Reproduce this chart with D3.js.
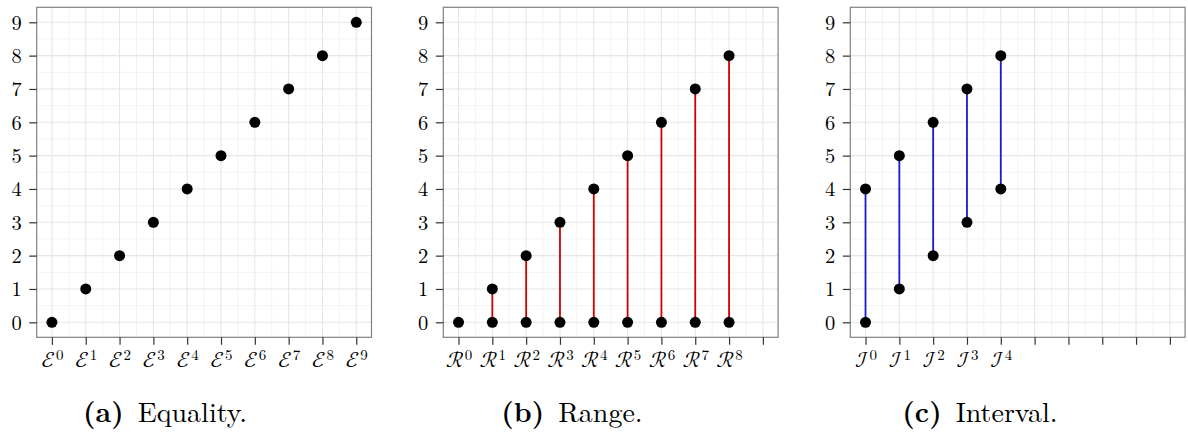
<!DOCTYPE html>
<html>
<head>
<meta charset="utf-8">
<script src="https://cdn.jsdelivr.net/npm/d3@7"></script>
<style>
  body { margin: 0; background: #fff; }
  text { font-family: "Latin Modern Roman", "Liberation Serif", serif; fill: #000; }
</style>
</head>
<body>
<div class="content"></div>
<script>
var svgWidth = 1188;  // The width of the SVG element.
var svgHeight = 435;  // The height of the SVG element.

// Data for each of the three panels.
var slots = [0, 1, 2, 3, 4, 5, 6, 7, 8, 9];
var yTicks = [0, 1, 2, 3, 4, 5, 6, 7, 8, 9];

var eqLevels = [0, 1, 2, 3, 4, 5, 6, 7, 8, 9];
var eqValues = [0, 1, 2, 3, 4, 5, 6, 7, 8, 9];

var rangeLevels = [0, 1, 2, 3, 4, 5, 6, 7, 8];
var rangeLow = [0, 0, 0, 0, 0, 0, 0, 0, 0];
var rangeHigh = [0, 1, 2, 3, 4, 5, 6, 7, 8];

var intLevels = [0, 1, 2, 3, 4];
var intLow = [0, 1, 2, 3, 4];
var intHigh = [4, 5, 6, 7, 8];

var panels = [
	{letter: "\u2130", levels: eqLevels, low: eqValues, high: eqValues, colour: null,
	 left: 36.7, caption: "Equality.", tag: "(a)", capX: 165},
	{letter: "\u211B", levels: rangeLevels, low: rangeLow, high: rangeHigh, colour: "#d40000",
	 left: 443.3, caption: "Range.", tag: "(b)", capX: 572},
	{letter: "\u2110", levels: intLevels, low: intLow, high: intHigh, colour: "#1a1ad2",
	 left: 850.3, caption: "Interval.", tag: "(c)", capX: 980}
];

var panelWidth = 334.8;
var panelTop = 7.3;
var panelHeight = 330;

var svg = d3.select(".content")
	.append("svg")
	.attr("width", svgWidth)
	.attr("height", svgHeight);

panels.forEach(function(p)
{
	var x = d3.scaleLinear().domain([-0.45, 9.45]).range([p.left, p.left + panelWidth]);
	var y = d3.scaleLinear().domain([-0.45, 9.45]).range([panelTop + panelHeight, panelTop]);

	var g = svg.append("g");

	// Minor grid lines at the halves.
	var halves = d3.range(0.5, 9, 1);
	g.selectAll(".minorx").data(halves).enter().append("line")
		.attr("x1", function(d) { return x(d); }).attr("x2", function(d) { return x(d); })
		.attr("y1", panelTop).attr("y2", panelTop + panelHeight)
		.attr("stroke", "#f3f3f3").attr("stroke-width", 1);
	g.selectAll(".minory").data(halves).enter().append("line")
		.attr("y1", function(d) { return y(d); }).attr("y2", function(d) { return y(d); })
		.attr("x1", p.left).attr("x2", p.left + panelWidth)
		.attr("stroke", "#f3f3f3").attr("stroke-width", 1);

	// Major grid lines.
	g.selectAll(".majorx").data(slots).enter().append("line")
		.attr("x1", function(d) { return x(d); }).attr("x2", function(d) { return x(d); })
		.attr("y1", panelTop).attr("y2", panelTop + panelHeight)
		.attr("stroke", "#e6e6e6").attr("stroke-width", 1.1);
	g.selectAll(".majory").data(yTicks).enter().append("line")
		.attr("y1", function(d) { return y(d); }).attr("y2", function(d) { return y(d); })
		.attr("x1", p.left).attr("x2", p.left + panelWidth)
		.attr("stroke", "#e6e6e6").attr("stroke-width", 1.1);

	// Segments joining low and high.
	if (p.colour)
	{
		g.selectAll(".seg").data(p.levels).enter().append("line")
			.attr("x1", function(d) { return x(d); }).attr("x2", function(d) { return x(d); })
			.attr("y1", function(d, i) { return y(p.low[i]); })
			.attr("y2", function(d, i) { return y(p.high[i]); })
			.attr("stroke", p.colour).attr("stroke-width", 1.8);
	}

	// Points.
	var pts = [];
	p.levels.forEach(function(d, i)
	{
		pts.push({x: d, y: p.low[i]});
		if (p.high[i] !== p.low[i]) pts.push({x: d, y: p.high[i]});
	});
	g.selectAll(".pt").data(pts).enter().append("circle")
		.attr("cx", function(d) { return x(d.x); })
		.attr("cy", function(d) { return y(d.y); })
		.attr("r", 5.5)
		.attr("fill", "#000");

	// Panel border.
	g.append("rect")
		.attr("x", p.left).attr("y", panelTop)
		.attr("width", panelWidth).attr("height", panelHeight)
		.attr("fill", "none").attr("stroke", "#808080").attr("stroke-width", 1.2);

	// Y axis.
	var yAxis = g.append("g")
		.attr("transform", "translate(" + p.left + ",0)")
		.call(d3.axisLeft(y).tickValues(yTicks).tickSize(7.5).tickPadding(7.5).tickSizeOuter(0));
	yAxis.select(".domain").remove();
	yAxis.selectAll(".tick line").attr("stroke", "#333").attr("stroke-width", 1.2);
	yAxis.selectAll(".tick text")
		.style("font-family", "'Latin Modern Roman', serif")
		.style("font-size", "20.5px")
		.attr("dy", "0.34em");

	// X axis.
	var xAxis = g.append("g")
		.attr("transform", "translate(0," + (panelTop + panelHeight) + ")")
		.call(d3.axisBottom(x).tickValues(slots).tickSize(7.5).tickSizeOuter(0).tickFormat(""));
	xAxis.select(".domain").remove();
	xAxis.selectAll(".tick line").attr("stroke", "#333").attr("stroke-width", 1.2);
	xAxis.selectAll(".tick text").remove();
	xAxis.selectAll(".tick").each(function(d)
	{
		if (p.levels.indexOf(d) < 0) return;
		var t = d3.select(this).append("text")
			.attr("y", 30)
			.attr("text-anchor", "middle")
			.style("font-family", "'Latin Modern Math', 'Latin Modern Roman', serif")
			.style("font-size", "22px");
		t.append("tspan").text(p.letter);
		t.append("tspan")
			.attr("dx", "1")
			.attr("dy", "-7.5")
			.style("font-family", "'Latin Modern Roman', serif")
			.style("font-size", "15px")
			.text(d);
	});

	// Caption.
	var cap = svg.append("text")
		.attr("x", p.capX)
		.attr("y", 422)
		.attr("text-anchor", "middle")
		.style("font-size", "28px");
	cap.append("tspan").style("font-weight", "bold").text(p.tag);
	cap.append("tspan").text("\u2002" + p.caption);
});
</script>
</body>
</html>
